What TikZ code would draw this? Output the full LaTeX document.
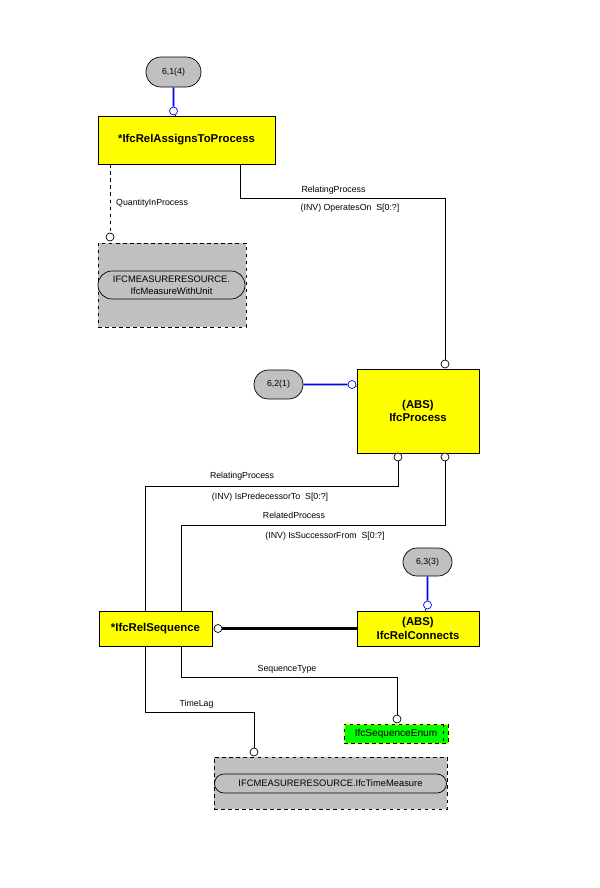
\documentclass[tikz,border=0pt]{standalone}
\usepackage{fontspec}
\setmainfont{Liberation Sans}
\usetikzlibrary{positioning,shapes.misc}
\definecolor{entyellow}{RGB}{255,255,0}
\definecolor{refgray}{RGB}{192,192,192}
\definecolor{enumgreen}{RGB}{0,255,0}
\tikzset{
  entity/.style={rectangle,draw=black,line width=0.6pt,fill=entyellow,align=center,
    font=\fontsize{9.7}{11.5}\selectfont\bfseries,inner sep=0pt},
  pageref/.style={rounded rectangle,draw=black,line width=0.6pt,fill=refgray,
    font=\fontsize{7.5}{9}\selectfont,inner sep=0pt},
  typebox/.style={rectangle,draw=black,dashed,line width=0.6pt,fill=refgray,inner sep=0pt},
  typepill/.style={rounded rectangle,draw=black,line width=0.6pt,fill=refgray,align=center,
    font=\fontsize{8}{10.5}\selectfont,inner sep=0pt},
  enumbox/.style={rectangle,draw=entyellow,line width=0.8pt,fill=enumgreen,
    postaction={draw=black,dashed,line width=0.8pt},font=\fontsize{8.6}{10}\selectfont,inner sep=0pt},
  attr/.style={font=\fontsize{7.5}{9}\selectfont,inner sep=0pt},
  endpt/.style={circle,draw=black,line width=0.6pt,fill=white,inner sep=0pt,minimum size=0.24cm},
  rel/.style={line width=0.6pt},
  bluelink/.style={blue,line width=1.5pt},
}
\begin{document}
\begin{tikzpicture}[x=0.03cm,y=-0.03cm]
\useasboundingbox (0,0) rectangle (600,888);
% entities
\node (assign) [entity,minimum width=5.31cm,minimum height=1.44cm] at (186.5,140) {*IfcRelAssignsToProcess};
\node (process) [entity,minimum width=3.66cm,minimum height=2.52cm] at (418,411) {(ABS)\\IfcProcess};
\node (seq) [entity,minimum width=3.39cm,minimum height=1.05cm] at (155.5,628.5) {*IfcRelSequence};
\node (conn) [entity,minimum width=3.66cm,minimum height=1.05cm] at (418,628.5) {(ABS)\\IfcRelConnects};
% page references
\node (ref1) [pageref,minimum width=1.65cm,minimum height=0.9cm] at (173.5,72) {6,1(4)};
\node (ref2) [pageref,minimum width=1.47cm,minimum height=0.87cm] at (278.5,384.5) {6,2(1)};
\node (ref3) [pageref,minimum width=1.47cm,minimum height=0.84cm] at (427.5,562) {6,3(3)};
% types
\node (measbox) [typebox,minimum width=4.44cm,minimum height=2.52cm] at (172,285) {};
\node (measpill) [typepill,minimum width=4.41cm,minimum height=0.84cm] at (171.5,285) {IFCMEASURERESOURCE.\\IfcMeasureWithUnit};
\node (timebox) [typebox,minimum width=6.99cm,minimum height=1.56cm] at (330.5,783) {};
\node (timepill) [typepill,minimum width=6.96cm,minimum height=0.57cm] at (330.5,783.5) {IFCMEASURERESOURCE.IfcTimeMeasure};
\node (enum) [enumbox,minimum width=3.12cm,minimum height=0.57cm] at (396,733.5) {IfcSequenceEnum\hspace{0.2cm}};
\draw[dashed,line width=0.8pt] ([xshift=-0.15cm]enum.north east) -- ([xshift=-0.15cm]enum.south east);
% end circles
\node (o1) [endpt,draw=blue] at (173.5,111) {};
\node (o2) [endpt] at (110,237) {};
\node (o3) [endpt] at (445,364) {};
\node (o4) [endpt,draw=blue] at (352,384.5) {};
\node (o5) [endpt] at (398,457) {};
\node (o6) [endpt] at (445,457) {};
\node (o7) [endpt,draw=blue] at (427.5,605) {};
\node (o8) [endpt] at (218,628.5) {};
\node (o9) [endpt] at (397,719) {};
\node (o10) [endpt] at (254,752) {};
% bends
\coordinate (b1) at (240,198);
\coordinate (b2) at (145,486);
\coordinate (b3) at (181,525);
\coordinate (b4) at (181,677);
\coordinate (b5) at (145,712);
% links
\draw[bluelink] (ref1) -- (o1);
\draw[bluelink] (ref2) -- (o4);
\draw[bluelink] (ref3) -- (o7);
\draw[rel] (o1) -- (assign);
\draw[rel] (o4) -- (process);
\draw[rel] (o7) -- (conn);
\draw[rel,dashed] (o2 |- assign.south) -- (o2);
\draw[rel] (b1 |- assign.south) -- (b1) -| (o3);
\draw[rel] (o5) |- (b2) -- (b2 |- seq.north);
\draw[rel] (o6) |- (b3) -- (b3 |- seq.north);
\draw[line width=2.4pt] (o8) -- (conn);
\draw[rel] (b4 |- seq.south) -- (b4) -| (o9);
\draw[rel] (b5 |- seq.south) -- (b5) -| (o10);
% labels
\node (lq) [attr,anchor=west] at (116,203) {QuantityInProcess};
\node (lr1) [attr] at (333.5,190) {RelatingProcess};
\node (li1) [attr] at (350,208) {(INV) OperatesOn\ \ S[0:?]};
\node (lr2) [attr] at (242,476) {RelatingProcess};
\node (li2) [attr] at (270,497) {(INV) IsPredecessorTo\ \ S[0:?]};
\node (lr3) [attr] at (294,515) {RelatedProcess};
\node (li3) [attr] at (325,536) {(INV) IsSuccessorFrom\ \ S[0:?]};
\node (lst) [attr] at (287,669) {SequenceType};
\node (ltl) [attr] at (196.5,704) {TimeLag};
\end{tikzpicture}
\end{document}
